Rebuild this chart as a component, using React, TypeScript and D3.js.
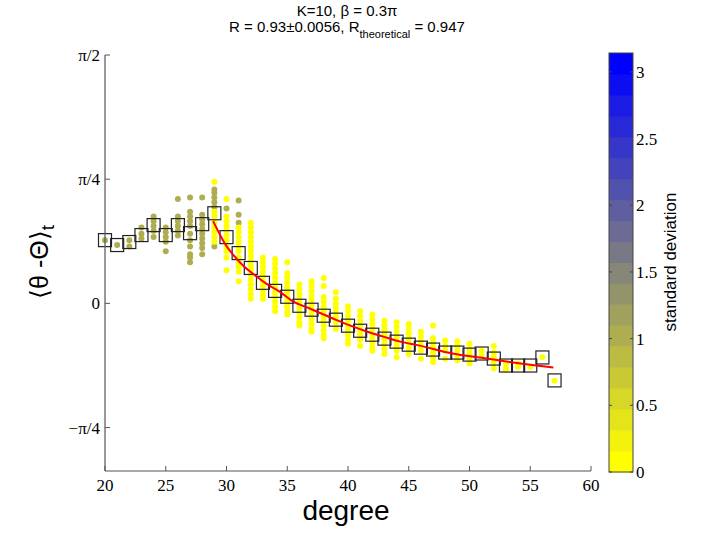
import React from "react";
import * as d3 from "d3";

// ---- data ----
const degrees = [20,21,22,23,24,25,26,27,28,29,30,31,32,33,34,35,36,37,38,39,40,41,42,43,44,45,46,47,48,49,50,51,52,53,54,55,56,57];
const meanValues = [0.400,0.369,0.388,0.432,0.495,0.432,0.495,0.444,0.501,0.570,0.419,0.318,0.224,0.130,0.079,0.042,-0.015,-0.040,-0.078,-0.103,-0.141,-0.173,-0.198,-0.223,-0.242,-0.261,-0.280,-0.292,-0.311,-0.311,-0.324,-0.317,-0.349,-0.393,-0.393,-0.393,-0.342,-0.487];

const fitDegrees = [28.9,30.0,30.5,31.4,32.2,33.3,34.4,35.4,36.9,38.8,40.2,41.6,42.9,44.3,45.9,48.6,51.4,54.2,56.9];
const fitValues = [0.520,0.362,0.312,0.237,0.186,0.123,0.073,0.016,-0.034,-0.097,-0.141,-0.179,-0.210,-0.242,-0.267,-0.317,-0.349,-0.380,-0.405];

const stdHigh = 1.05;
const stdLow = 0.03;

const dotsHigh: [number, number[]][] = [
  [20, [0.40]],
  [21, [0.37]],
  [22, [0.40, 0.36]],
  [23, [0.48, 0.44, 0.41]],
  [24, [0.55, 0.52, 0.49, 0.46, 0.42]],
  [25, [0.48, 0.45, 0.42, 0.39, 0.33]],
  [26, [0.66, 0.55, 0.52, 0.49, 0.46, 0.43]],
  [27, [0.67, 0.58, 0.55, 0.52, 0.49, 0.44, 0.40, 0.36, 0.31, 0.29, 0.26]],
  [28, [0.67, 0.56, 0.53, 0.50, 0.47, 0.44, 0.41, 0.38, 0.35, 0.31]],
  [29, [0.72, 0.70, 0.67, 0.64, 0.61, 0.36]],
  [30, [0.60]],
  [31, [0.65, 0.56, 0.51]],
];

const dotsLow: [number, number[]][] = [
  [29, [0.77, 0.58, 0.55, 0.51, 0.48, 0.45, 0.42, 0.39]],
  [30, [0.66, 0.55, 0.52, 0.49, 0.46, 0.43, 0.40, 0.36, 0.33, 0.29, 0.21]],
  [31, [0.48, 0.45, 0.42, 0.39, 0.36, 0.33, 0.29, 0.26, 0.23, 0.20, 0.14]],
  [32, [0.51, 0.48, 0.45, 0.42, 0.39, 0.36, 0.33, 0.30, 0.27, 0.24, 0.21, 0.18, 0.15, 0.12, 0.09, 0.06, 0.03]],
  [33, [0.29, 0.26, 0.23, 0.20, 0.17, 0.14, 0.11, 0.08, 0.05, 0.03]],
  [34, [0.28, 0.25, 0.22, 0.19, 0.16, 0.13, 0.10, 0.07, 0.04, 0.01, -0.02, -0.05]],
  [35, [0.26, 0.19, 0.16, 0.13, 0.10, 0.07, 0.04, 0.01, -0.02, -0.05, -0.07]],
  [36, [0.12, 0.09, 0.06, 0.03, 0.00, -0.03, -0.06, -0.09, -0.12, -0.14]],
  [37, [0.14, 0.11, 0.08, 0.05, 0.02, -0.01, -0.04, -0.07, -0.10, -0.13, -0.16, -0.18]],
  [38, [0.16, 0.11, 0.04, 0.01, -0.02, -0.05, -0.08, -0.11, -0.14, -0.17, -0.20, -0.22]],
  [39, [0.07, 0.03, 0.00, -0.03, -0.06, -0.09, -0.12, -0.16]],
  [40, [-0.02, -0.05, -0.08, -0.11, -0.14, -0.17, -0.20, -0.23, -0.255]],
  [41, [-0.05, -0.08, -0.11, -0.14, -0.17, -0.20, -0.23, -0.27]],
  [42, [-0.07, -0.10, -0.13, -0.16, -0.19, -0.22, -0.25, -0.28, -0.30]],
  [43, [-0.11, -0.14, -0.17, -0.20, -0.23, -0.26, -0.29, -0.32]],
  [44, [-0.12, -0.15, -0.18, -0.21, -0.24, -0.27, -0.30, -0.34]],
  [45, [-0.13, -0.16, -0.19, -0.22, -0.25, -0.28, -0.32]],
  [46, [-0.18, -0.21, -0.24, -0.27, -0.30, -0.35]],
  [47, [-0.14, -0.22, -0.25, -0.28, -0.31, -0.34, -0.37]],
  [48, [-0.235, -0.27, -0.30, -0.35]],
  [49, [-0.24, -0.27, -0.30, -0.33, -0.36]],
  [50, [-0.255, -0.29, -0.32, -0.35, -0.38]],
  [51, [-0.30, -0.33]],
  [52, [-0.27, -0.31, -0.34, -0.37, -0.41]],
  [53, [-0.38, -0.41, -0.42]],
  [54, [-0.38, -0.40]],
  [55, [-0.40]],
  [56, [-0.34]],
  [57, [-0.49]],
];

const xTicks = [20, 25, 30, 35, 40, 45, 50, 55, 60];
const yTickValues = [Math.PI / 2, Math.PI / 4, 0, -Math.PI / 4];
const yTickLabels = ["π/2", "π/4", "0", "−π/4"];
const cbTicks = [0, 0.5, 1, 1.5, 2, 2.5, 3];
const nBands = 20;

// ---- layout ----
const W = 728, H = 534;
const plotL = 105, plotR = 591, plotT = 55, plotB = 471;
const cbL = 609, cbR = 633, cbT = 53, cbB = 472;

export default function App() {
  const x = d3.scaleLinear().domain([20, 60]).range([plotL, plotR]);
  const y = d3.scaleLinear().domain([-1.06, Math.PI / 2]).range([plotB, plotT]);
  const bandColors = d3.range(nBands).map((i) => d3.interpolateRgb("#ffff00", "#0000ff")(i / (nBands - 1)));
  const color = d3.scaleQuantize<string>().domain([0, Math.PI]).range(bandColors);
  const cbY = d3.scaleLinear().domain([0, Math.PI]).range([cbB, cbT]);
  const line = d3.line<number>().x((_, i) => x(fitDegrees[i])).y((v) => y(v)).curve(d3.curveMonotoneX);
  const sq = 13;

  const serif = "'Liberation Serif', 'Times New Roman', serif";
  const sans = "'Liberation Sans', Arial, sans-serif";

  return (
    <svg width={W} height={H} style={{ position: "absolute", left: 0, top: 0, background: "#fff" }}>
      <rect x={0} y={0} width={W} height={H} fill="#fff" />
      {/* title */}
      <text x={347} y={16} textAnchor="middle" fontFamily={sans} fontSize={15}>K=10, β = 0.3π</text>
      <text x={347} y={32} textAnchor="middle" fontFamily={sans} fontSize={15}>
        R = 0.93±0.0056, R<tspan fontSize={11} dy={6}>theoretical</tspan><tspan dy={-6}> = 0.947</tspan>
      </text>

      {/* dots */}
      {dotsHigh.map(([d, vals]) =>
        vals.map((v, i) => <circle key={`h${d}-${i}`} cx={x(d)} cy={y(v)} r={3} fill={color(stdHigh)} />)
      )}
      {dotsLow.map(([d, vals]) =>
        vals.map((v, i) => <circle key={`l${d}-${i}`} cx={x(d)} cy={y(v)} r={3} fill={color(stdLow)} />)
      )}

      {/* mean squares */}
      {degrees.map((d, i) => (
        <rect key={`s${d}`} x={x(d) - sq / 2} y={y(meanValues[i]) - sq / 2} width={sq} height={sq}
          fill="none" stroke="#222" strokeWidth={1.2} />
      ))}

      {/* fit */}
      <path d={line(fitValues) || ""} fill="none" stroke="#ff0000" strokeWidth={2} />

      {/* axes */}
      <line x1={plotL} x2={plotL} y1={plotT} y2={plotB} stroke="#555" strokeWidth={1.2} />
      <line x1={plotL} x2={plotR} y1={plotB} y2={plotB} stroke="#555" strokeWidth={1.2} />
      {xTicks.map((t) => (
        <g key={`xt${t}`}>
          <line x1={x(t)} x2={x(t)} y1={plotB} y2={plotB - 5} stroke="#555" strokeWidth={1} />
          <text x={x(t)} y={491} textAnchor="middle" fontFamily={serif} fontSize={17}>{t}</text>
        </g>
      ))}
      {yTickValues.map((t, i) => (
        <g key={`yt${i}`}>
          <line x1={plotL} x2={plotL + 5} y1={y(t)} y2={y(t)} stroke="#555" strokeWidth={1} />
          <text x={100} y={y(t)} dy="0.35em" textAnchor="end" fontFamily={serif} fontSize={17}>{yTickLabels[i]}</text>
        </g>
      ))}

      {/* axis labels */}
      <text x={346} y={520} textAnchor="middle" fontFamily={sans} fontSize={28}>degree</text>
      <text transform="translate(48,262) rotate(-90)" textAnchor="middle" fontFamily={sans} fontSize={25}>
        ⟨θ -Θ⟩<tspan fontSize={19} dy={6}>t</tspan>
      </text>

      {/* colorbar */}
      {bandColors.map((c, i) => {
        const v0 = (i * Math.PI) / nBands, v1 = ((i + 1) * Math.PI) / nBands;
        return <rect key={`cb${i}`} x={cbL} y={cbY(v1)} width={cbR - cbL} height={cbY(v0) - cbY(v1) + 0.5} fill={c} />;
      })}
      <rect x={cbL} y={cbT} width={cbR - cbL} height={cbB - cbT} fill="none" stroke="#444" strokeWidth={1} />
      {cbTicks.map((t) => (
        <g key={`cbt${t}`}>
          <line x1={cbL} x2={cbL + 3} y1={cbY(t)} y2={cbY(t)} stroke="#444" strokeWidth={1} />
          <line x1={cbR} x2={cbR - 3} y1={cbY(t)} y2={cbY(t)} stroke="#444" strokeWidth={1} />
          <text x={636} y={cbY(t)} dy="0.35em" fontFamily={serif} fontSize={17}>{t}</text>
        </g>
      ))}
      <text transform="translate(676,262) rotate(-90)" textAnchor="middle" fontFamily={sans} fontSize={17}>standard deviation</text>
    </svg>
  );
}
